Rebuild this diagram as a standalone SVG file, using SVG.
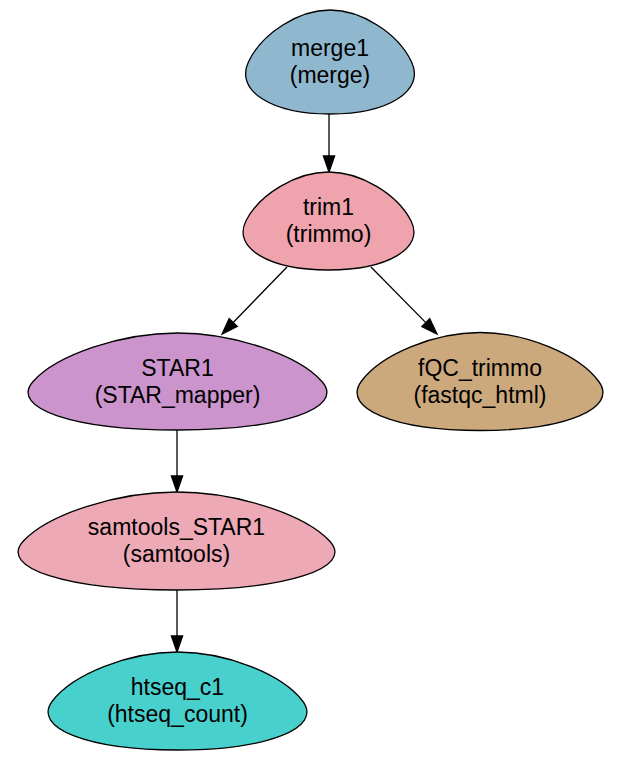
<svg xmlns="http://www.w3.org/2000/svg" width="627" height="764" viewBox="0 0 627 764">
<style>
.n{stroke:#000;stroke-width:1.3}
.t{font-family:"Liberation Sans",Arial,sans-serif;font-size:23px;fill:#000;text-anchor:middle}
.e{stroke:#000;stroke-width:1.3;fill:none;marker-end:url(#ah)}
</style>
<defs>
<marker id="ah" markerUnits="userSpaceOnUse" markerWidth="17" markerHeight="12" refX="0" refY="5.6" orient="auto" overflow="visible">
<path d="M0,0 L16,5.6 L0,11.2 Z" fill="#000" stroke="#000" stroke-width="1.3"/>
</marker>
</defs>
<rect width="627" height="764" fill="#fff"/>
<g id="connectors">
<line class="e" x1="329" y1="114" x2="329" y2="156"/>
<line class="e" x1="287" y1="267" x2="233.2" y2="322.5"/>
<line class="e" x1="371" y1="267" x2="425.8" y2="322.6"/>
<line class="e" x1="177" y1="430" x2="177" y2="476"/>
<line class="e" x1="177" y1="590" x2="177" y2="636"/>
</g>
<g id="merge1">
<path class="n" fill="#8fb7ce" d="M330,10 C361.5,10 398.1,33.3 411.6,62 C425.1,90.7 388.6,114 330,114 C271.4,114 234.9,90.7 248.4,62 C261.9,33.3 298.5,10 330,10 Z"/>
<text class="t" x="330" y="56">merge1</text>
<text class="t" x="330" y="83">(merge)</text>
</g>
<g id="trim1">
<path class="n" fill="#efa3ad" d="M328.5,172 C360.4,172 397.4,193.9 411.1,221 C424.8,248.1 387.8,270 328.5,270 C269.2,270 232.2,248.1 245.9,221 C259.6,193.9 296.6,172 328.5,172 Z"/>
<text class="t" x="328.5" y="215">trim1</text>
<text class="t" x="328.5" y="242">(trimmo)</text>
</g>
<g id="STAR1">
<path class="n" fill="#cc94cc" d="M177.5,333 C233.3,333 298,354.7 321.9,381.5 C345.8,408.3 281.2,430 177.5,430 C73.8,430 9.2,408.3 33.1,381.5 C57,354.7 121.7,333 177.5,333 Z"/>
<text class="t" x="177.5" y="375.5">STAR1</text>
<text class="t" x="177.5" y="402.5">(STAR_mapper)</text>
</g>
<g id="fQC_trimmo">
<path class="n" fill="#cca97c" d="M480,332.5 C525.9,332.5 579.1,354.4 598.8,381.5 C618.5,408.6 565.3,430.5 480,430.5 C394.7,430.5 341.5,408.6 361.2,381.5 C380.9,354.4 434.1,332.5 480,332.5 Z"/>
<text class="t" x="480" y="375.5">fQC_trimmo</text>
<text class="t" x="480" y="402.5">(fastqc_html)</text>
</g>
<g id="samtools_STAR1">
<path class="n" fill="#eda9b5" d="M176.5,492 C235.7,492 304.2,513.9 329.6,541 C355,568.1 286.4,590 176.5,590 C66.6,590 -2,568.1 23.4,541 C48.8,513.9 117.3,492 176.5,492 Z"/>
<text class="t" x="176.5" y="535">samtools_STAR1</text>
<text class="t" x="176.5" y="562">(samtools)</text>
</g>
<g id="htseq_c1">
<path class="n" fill="#48d1cc" d="M177.5,652 C225.9,652 281.9,673.9 302.6,701 C323.3,728.1 267.3,750 177.5,750 C87.7,750 31.7,728.1 52.4,701 C73.1,673.9 129.1,652 177.5,652 Z"/>
<text class="t" x="177.5" y="695">htseq_c1</text>
<text class="t" x="177.5" y="722">(htseq_count)</text>
</g>
</svg>
